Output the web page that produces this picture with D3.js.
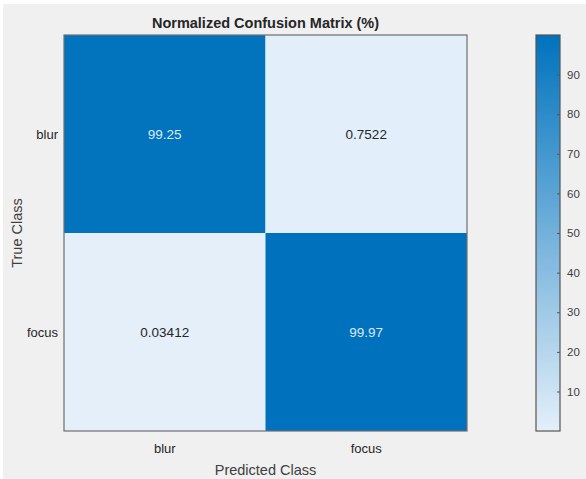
<!DOCTYPE html>
<html>
<head>
<meta charset="utf-8">
<script src="https://cdn.jsdelivr.net/npm/d3@7"></script>
<style>
  body { margin: 0; background: #ffffff; }
  text { font-family: "Liberation Sans", Arial, sans-serif; }
</style>
</head>
<body>
<script>
'use strict';

// data
const trueClasses = ["blur", "focus"];
const predictedClasses = ["blur", "focus"];
const cellValues = [
  [99.25, 0.7522],
  [0.03412, 99.97]
];
const cellLabels = [
  ["99.25", "0.7522"],
  ["0.03412", "99.97"]
];
const colorbarTicks = [10, 20, 30, 40, 50, 60, 70, 80, 90];

(function () {
  const width = 586, height = 479;

  const svg = d3.select('body')
    .append('svg')
    .attr('width', width)
    .attr('height', height);

  // figure background
  svg.append('rect')
    .attr('x', 3).attr('y', 4)
    .attr('width', width - 3).attr('height', height - 4)
    .attr('fill', '#f0f0f0');

  let plot = { left: 64, right: 467, top: 35, bottom: 431 };

  let xScale = d3.scaleBand()
    .domain(predictedClasses)
    .range([plot.left, plot.right]);

  let yScale = d3.scaleBand()
    .domain(trueClasses)
    .range([plot.top, plot.bottom]);

  let flat = cellValues.flat();
  let vMin = d3.min(flat), vMax = d3.max(flat);

  let color = d3.scaleLinear()
    .domain([vMin, vMax])
    .range(["#e4eff9", "#0072bd"])
    .interpolate(d3.interpolateRgb);

  let cells = [];
  trueClasses.forEach((t, i) => {
    predictedClasses.forEach((p, j) => {
      cells.push({ t: t, p: p, v: cellValues[i][j], label: cellLabels[i][j] });
    });
  });

  svg.selectAll('.cell')
    .data(cells)
    .enter()
    .append('rect')
    .attr('class', 'cell')
    .attr('x', d => xScale(d.p))
    .attr('y', d => yScale(d.t))
    .attr('width', xScale.bandwidth())
    .attr('height', yScale.bandwidth())
    .attr('fill', d => color(d.v));

  svg.selectAll('.cellText')
    .data(cells)
    .enter()
    .append('text')
    .attr('class', 'cellText')
    .attr('x', d => xScale(d.p) + xScale.bandwidth() / 2)
    .attr('y', d => yScale(d.t) + yScale.bandwidth() / 2)
    .attr('dy', '0.35em')
    .attr('text-anchor', 'middle')
    .style('font-size', '13.5px')
    .attr('fill', d => d.v > 50 ? '#dbe9f7' : '#262626')
    .text(d => d.label);

  // outer frame
  svg.append('rect')
    .attr('x', plot.left).attr('y', plot.top)
    .attr('width', plot.right - plot.left)
    .attr('height', plot.bottom - plot.top)
    .attr('fill', 'none')
    .attr('stroke', '#6e6e6e')
    .attr('stroke-width', 1.2);

  // row and column labels
  svg.selectAll('.rowLabel')
    .data(trueClasses)
    .enter()
    .append('text')
    .attr('x', plot.left - 6)
    .attr('y', d => yScale(d) + yScale.bandwidth() / 2)
    .attr('dy', '0.35em')
    .attr('text-anchor', 'end')
    .style('font-size', '13px')
    .attr('fill', '#262626')
    .text(d => d);

  svg.selectAll('.colLabel')
    .data(predictedClasses)
    .enter()
    .append('text')
    .attr('x', d => xScale(d) + xScale.bandwidth() / 2)
    .attr('y', 453)
    .attr('text-anchor', 'middle')
    .style('font-size', '13px')
    .attr('fill', '#262626')
    .text(d => d);

  svg.append('text')
    .attr('x', (plot.left + plot.right) / 2)
    .attr('y', 475)
    .attr('text-anchor', 'middle')
    .style('font-size', '14.5px')
    .attr('fill', '#404040')
    .text('Predicted Class');

  svg.append('text')
    .attr('transform', 'translate(22, ' + ((plot.top + plot.bottom) / 2) + ')rotate(-90)')
    .attr('text-anchor', 'middle')
    .style('font-size', '14.5px')
    .attr('fill', '#404040')
    .text('True Class');

  svg.append('text')
    .attr('x', (plot.left + plot.right) / 2)
    .attr('y', 28)
    .attr('text-anchor', 'middle')
    .style('font-size', '14.5px')
    .style('font-weight', 'bold')
    .attr('fill', '#262626')
    .text('Normalized Confusion Matrix (%)');

  // colorbar
  let cb = { left: 536, right: 560, top: 35, bottom: 431 };
  let cbScale = d3.scaleLinear()
    .domain([vMin, vMax])
    .range([cb.bottom, cb.top]);

  let defs = svg.append('defs');
  let grad = defs.append('linearGradient')
    .attr('id', 'cbGrad')
    .attr('x1', 0).attr('y1', 1)
    .attr('x2', 0).attr('y2', 0);
  d3.range(0, 1.0001, 0.1).forEach(f => {
    grad.append('stop')
      .attr('offset', f)
      .attr('stop-color', color(vMin + f * (vMax - vMin)));
  });

  svg.append('rect')
    .attr('x', cb.left).attr('y', cb.top)
    .attr('width', cb.right - cb.left)
    .attr('height', cb.bottom - cb.top)
    .attr('fill', 'url(#cbGrad)')
    .attr('stroke', '#555555')
    .attr('stroke-width', 1.2);

  let cbAxis = d3.axisRight(cbScale)
    .tickValues(colorbarTicks)
    .tickSizeInner(-3)
    .tickSizeOuter(0)
    .tickPadding(7);

  let cbG = svg.append('g')
    .attr('transform', 'translate(' + cb.right + ',0)')
    .call(cbAxis);
  cbG.select('.domain').remove();
  cbG.selectAll('line').attr('stroke', '#555555');
  cbG.selectAll('text')
    .style('font-size', '11.5px')
    .style('font-family', '"Liberation Sans", Arial, sans-serif')
    .attr('fill', '#404040');
})();
</script>
</body>
</html>
